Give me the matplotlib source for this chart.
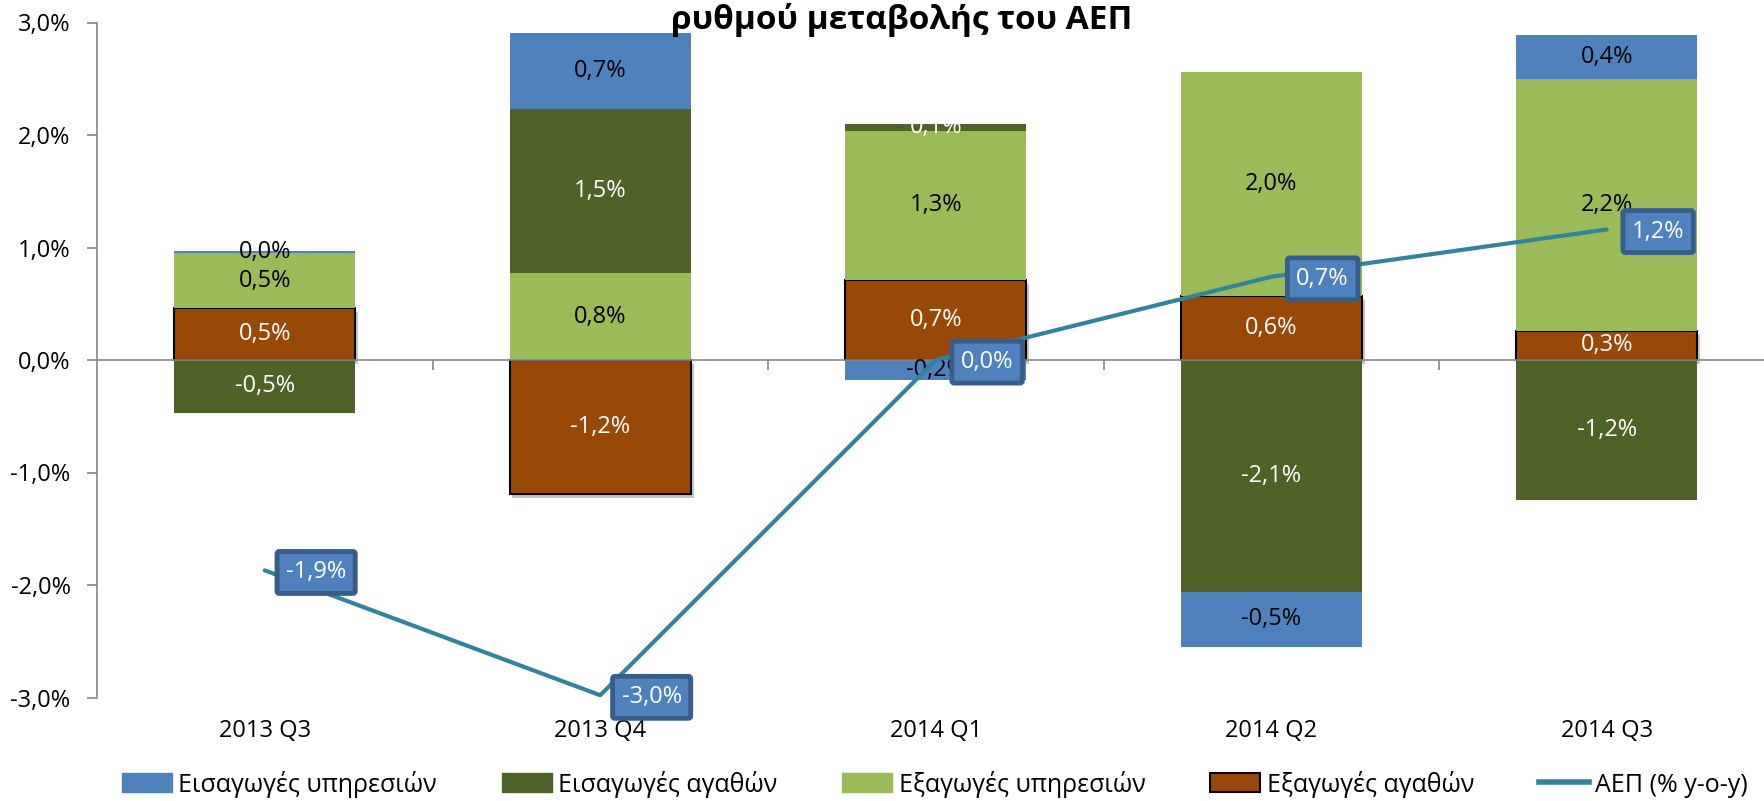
import numpy as np
import matplotlib.pyplot as plt
import matplotlib.patheffects as pe
from matplotlib.patches import Patch
from matplotlib.lines import Line2D

plt.rcParams['font.family'] = ['Open Sans', 'DejaVu Sans']

###############################################################################
# Data (contributions to GDP growth, %)

quarters = ['2013 Q3', '2013 Q4', '2014 Q1', '2014 Q2', '2014 Q3']

exports_goods = [0.46, -1.19, 0.71, 0.57, 0.26]      # Εξαγωγές αγαθών
exports_services = [0.49, 0.77, 1.33, 1.99, 2.24]    # Εξαγωγές υπηρεσιών
imports_goods = [-0.47, 1.46, 0.06, -2.06, -1.24]    # Εισαγωγές αγαθών
imports_services = [0.02, 0.68, -0.18, -0.49, 0.39]  # Εισαγωγές υπηρεσιών
gdp = [-1.87, -2.98, 0.0, 0.74, 1.16]                # ΑΕΠ (% y-o-y)

yticks = [-3, -2, -1, 0, 1, 2, 3]

###############################################################################
# Styles

c_blue = '#4F81BD'
c_dgreen = '#4F6228'
c_lgreen = '#9BBB59'
c_brown = '#984807'
c_line = '#31849B'
axis_gray = '#868686'
fs = 17


def pct(v):
    return ('%.1f%%' % v).replace('.', ',')


fig = plt.figure(figsize=(17.64, 8.01), dpi=100)
ax = fig.add_axes([97 / 1764, 1 - 697.5 / 801, 1 - 97 / 1764, (697.5 - 22.5) / 801])

x = np.arange(len(quarters))
width = 0.54

# stacking order bottom -> top: brown, light green, dark green, blue
series = [
    (exports_goods, c_brown, 'white', True),
    (exports_services, c_lgreen, 'black', False),
    (imports_goods, c_dgreen, 'white', False),
    (imports_services, c_blue, 'black', False),
]

pos_base = np.zeros(len(quarters))
neg_base = np.zeros(len(quarters))
for vals, col, tcol, edged in series:
    vals = np.array(vals)
    bottoms = np.where(vals >= 0, pos_base, neg_base)
    bars = ax.bar(x, vals, width, bottom=bottoms, color=col,
                  edgecolor='black' if edged else col,
                  linewidth=1.5 if edged else 0, zorder=2)
    if edged:
        for b in bars:
            b.set_path_effects([pe.SimplePatchShadow(offset=(2, -3), alpha=0.25),
                                pe.Normal()])
    for xi, v, b0 in zip(x, vals, bottoms):
        ax.text(xi, b0 + v / 2, pct(v), ha='center', va='center',
                color=tcol, fontsize=fs, zorder=3)
    pos_base = np.where(vals >= 0, pos_base + vals, pos_base)
    neg_base = np.where(vals < 0, neg_base + vals, neg_base)

# GDP line
ax.plot(x, gdp, color=c_line, linewidth=3, solid_capstyle='round', zorder=4)
for xi, v in zip(x, gdp):
    ax.annotate(pct(v), (xi, v), xytext=(37, -1.5), textcoords='offset points',
                ha='center', va='center', color='white', fontsize=fs, zorder=5,
                bbox=dict(boxstyle='round,pad=0.38,rounding_size=0.1',
                          fc=c_blue, ec='#385D8A', lw=3.5))

###############################################################################
# Axes

ax.set_xlim(-0.5, -0.5 + 1667 / 335.5)
ax.set_ylim(-3, 3)
ax.set_yticks(yticks)
ax.set_yticklabels([pct(t) for t in yticks], fontsize=fs)
ax.tick_params(axis='y', length=7, width=1.2, color=axis_gray, pad=12)

ax.spines['top'].set_visible(False)
ax.spines['right'].set_visible(False)
ax.spines['left'].set_color(axis_gray)
ax.spines['left'].set_linewidth(1.2)
ax.spines['bottom'].set_position(('data', 0))
ax.spines['bottom'].set_color(axis_gray)
ax.spines['bottom'].set_linewidth(1.2)
ax.spines['bottom'].set_zorder(2.5)

ax.set_xticks(x[:-1] + 0.5)
ax.set_xticklabels([])
ax.tick_params(axis='x', length=7, width=1.2, color=axis_gray, direction='out')
for xi, q in zip(x, quarters):
    ax.text(xi, -0.05, q, transform=ax.get_xaxis_transform(),
            ha='center', va='center', fontsize=fs)

# Title (kept just inside the top edge)
fig.text(902 / 1764, 1 - 29 / 801, 'ρυθμού μεταβολής του ΑΕΠ', ha='center',
         va='baseline', fontsize=24, fontweight='bold')

# Legend
handles = [
    Patch(facecolor=c_blue, edgecolor=c_blue, label='Εισαγωγές υπηρεσιών'),
    Patch(facecolor=c_dgreen, edgecolor=c_dgreen, label='Εισαγωγές αγαθών'),
    Patch(facecolor=c_lgreen, edgecolor=c_lgreen, label='Εξαγωγές υπηρεσιών'),
    Patch(facecolor=c_brown, edgecolor='black', linewidth=1.5, label='Εξαγωγές αγαθών'),
    Line2D([0], [0], color=c_line, linewidth=4, label='ΑΕΠ (% y-o-y)'),
]
fig.legend(handles=handles, loc='center', bbox_to_anchor=(935 / 1764, 17 / 801),
           ncol=5, frameon=False, fontsize=18, handlelength=2.0,
           handleheight=0.8, handletextpad=0.25, columnspacing=2.6)

fig.savefig('out.png', dpi=100)
